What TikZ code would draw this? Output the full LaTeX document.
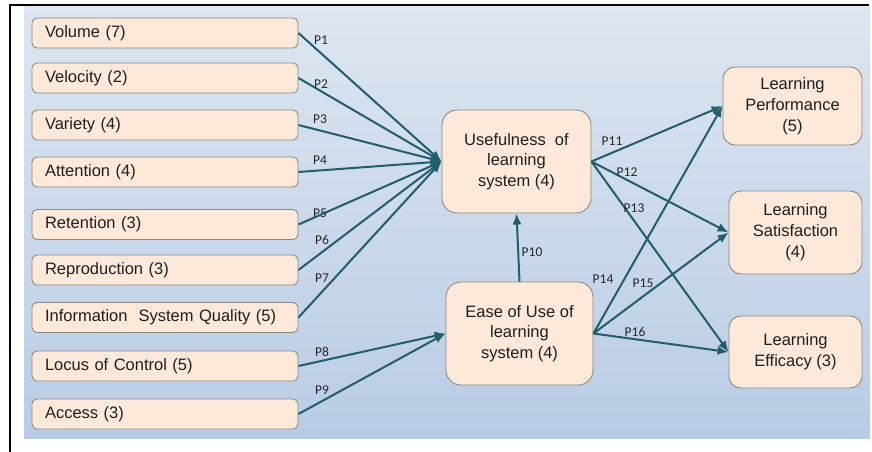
\documentclass[tikz,border=0pt]{standalone}
\usepackage{fontspec}
\setmainfont{Liberation Sans}
\newfontfamily\lblfont{Carlito}
\usetikzlibrary{arrows.meta}
\definecolor{boxfill}{HTML}{FDE9D9}
\definecolor{boxline}{HTML}{8A8A7E}
\definecolor{arr}{HTML}{215D6B}
\definecolor{bgtop}{HTML}{DDE6F1}
\definecolor{bgbot}{HTML}{B9CCE5}
\definecolor{lbl}{HTML}{262626}
\begin{document}
\begin{tikzpicture}[x=1pt,y=-1pt,
  lbox/.style={draw=boxline, fill=boxfill, line width=0.9pt, rounded corners=5pt,
    minimum width=266pt, minimum height=30pt, text width=240pt, align=left,
    inner sep=0pt, font=\fontsize{16.5}{20}\selectfont, text=black!88},
  cbox/.style={draw=boxline, fill=boxfill, line width=0.9pt, rounded corners=15pt,
    align=center, inner sep=0pt, font=\fontsize{16.5}{20.5}\selectfont, text=black!88},
  rbox/.style={draw=boxline, fill=boxfill, line width=0.9pt, rounded corners=12pt,
    align=center, inner sep=0pt, font=\fontsize{16.5}{21}\selectfont, text=black!88},
  conn/.style={draw=arr, line width=2pt, -{Latex[length=11pt,width=9pt]}},
  plbl/.style={font=\lblfont\fontsize{13.5}{15}\selectfont, text=lbl, inner sep=0pt}
]
\useasboundingbox (0,0) rectangle (872,452);
\shade[top color=bgtop, bottom color=bgbot] (24,5) rectangle (870,438);
\draw[line width=1.8pt] (10,452) -- (10,5) -- (869,5);

% left boxes
\node[lbox] (vol) at (165,33) {Volume (7)};
\node[lbox] (vel) at (165,78) {Velocity (2)};
\node[lbox] (var) at (165,125) {Variety (4)};
\node[lbox] (att) at (165,172) {Attention (4)};
\node[lbox] (ret) at (165,224.5) {Retention (3)};
\node[lbox] (rep) at (165,270) {Reproduction (3)};
\node[lbox] (isq) at (165,317.5) {Information\ \ System Quality (5)};
\node[lbox] (loc) at (165,366) {Locus of Control (5)};
\node[lbox] (acc) at (165,414) {Access (3)};

% centre boxes
\node[cbox, minimum width=149pt, minimum height=103pt] (use) at (516.5,161.5)
  {Usefulness\ \ of\\learning\\system (4)};
\node[cbox, minimum width=147pt, minimum height=103pt] (ease) at (519.5,333.5)
  {Ease of Use of\\learning\\system (4)};

% right boxes
\node[rbox, minimum width=139pt, minimum height=78pt] (perf) at (792.5,106)
  {Learning\\Performance\\(5)};
\node[rbox, minimum width=133pt, minimum height=83pt] (sat) at (795.5,232.5)
  {Learning\\Satisfaction\\(4)};
\node[rbox, minimum width=133pt, minimum height=72pt] (eff) at (795.5,352)
  {Learning\\Efficacy (3)};

% connectors
\foreach \s in {vol,vel,var,att,ret,rep,isq}
  \draw[conn] (\s.east) -- (use.west);
\draw[conn] (loc.east) -- (ease.west);
\draw[conn] (acc.east) -- (ease.west);
\draw[conn] (ease.north) -- (use.south);
\draw[conn] (use.east) -- (perf.west);
\draw[conn] (use.east) -- (sat.west);
\draw[conn] (use.east) -- (eff.west);
\draw[conn] (ease.east) -- (perf.west);
\draw[conn] (ease.east) -- (sat.west);
\draw[conn] (ease.east) -- (eff.west);

% labels
\node[plbl] (l1) at (321,40) {P1};
\node[plbl] (l2) at (321,84) {P2};
\node[plbl] (l3) at (320,119) {P3};
\node[plbl] (l4) at (320,160) {P4};
\node[plbl] (l5) at (320,213) {P5};
\node[plbl] (l6) at (322,240) {P6};
\node[plbl] (l7) at (322,278) {P7};
\node[plbl] (l8) at (322,352) {P8};
\node[plbl] (l9) at (322,390) {P9};
\node[plbl] (l10) at (532,252) {P10};
\node[plbl] (l11) at (612,141) {P11};
\node[plbl] (l12) at (627,172) {P12};
\node[plbl] (l13) at (634,208) {P13};
\node[plbl] (l14) at (603,279) {P14};
\node[plbl] (l15) at (643,283) {P15};
\node[plbl] (l16) at (635,332) {P16};
\end{tikzpicture}
\end{document}
